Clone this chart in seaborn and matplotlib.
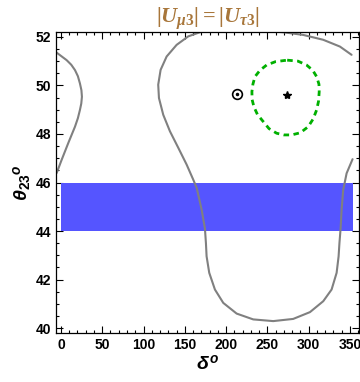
import numpy as np
import pandas as pd
import matplotlib
matplotlib.use('Agg')
import matplotlib.pyplot as plt
import seaborn as sns
from matplotlib.ticker import MultipleLocator

# contour |U_mu3|=|U_tau3| (delta in deg, theta23 in deg)
left_delta = [-6.4, 6.9, 12.5, 17, 20.5, 23, 24.8, 25.4, 24.6, 23, 20.5, 17, 8.8, 0.8, -5.2]
left_theta = [51.38, 51.04, 50.85, 50.63, 50.38, 50.08, 49.8, 49.53, 49.25, 48.99, 48.65, 48.3,
              47.62, 46.93, 46.39]

# big contour, goes out of the top of the frame and comes back
big_delta = [352, 337.9, 317.6, 293.4, 269.2, 245, 212, 178.4, 168.3, 154.2, 140.1, 128, 120.7,
             117.8, 118.7, 123.9, 132, 142.1, 152.2, 160.2, 164.4, 170.4, 174.4, 175.6, 176.4,
             179.6, 186.5, 196.6, 212.8, 232.9, 257.1, 281.3, 301.6, 317.7, 327.8, 333.9, 336.3,
             337.3, 338.7, 339.9, 341.9, 346, 353.2]
big_theta = [51.26, 51.6, 51.88, 52.08, 52.19, 52.25, 52.45, 52.25, 52.19, 52.02, 51.67, 51.19, 50.64,
             50.03, 49.48, 48.79, 48.11, 47.43, 46.74, 46.12, 45.78, 44.88, 44.1, 43.5, 42.96,
             42.28, 41.59, 41.04, 40.6, 40.36, 40.29, 40.38, 40.66, 41.11, 41.59, 42.28, 42.96,
             43.5, 44.1, 44.87, 45.7, 46.38, 46.96]

# green dashed region
green_delta = [274, 287, 297.5, 305, 309.7, 312.5, 312.8, 312, 309.7, 305.5, 299.5, 290, 279.4,
               270, 261.2, 252, 245, 238, 233.7, 231.5, 231.3, 232.5, 235, 241, 249.1, 260, 274]
green_theta = [51.04, 51.0, 50.84, 50.62, 50.36, 50.05, 49.74, 49.35, 48.99, 48.62, 48.3, 48.05, 47.96,
               47.96, 48.03, 48.22, 48.51, 48.8, 49.12, 49.42, 49.74, 50.05, 50.36, 50.62, 50.84, 50.98, 51.04]

# blue band theta23 = 44..46
band_delta = [0, 354]
band_low = 44
band_high = 46

# points
star_pt = (274, 49.6)
dot_pt = (212.7, 49.63)

sns.set_style('ticks')
plt.rcParams['font.family'] = ['Liberation Sans', 'DejaVu Sans']
plt.rcParams['mathtext.fontset'] = 'custom'
plt.rcParams['mathtext.it'] = 'Liberation Serif:bold:italic'
plt.rcParams['mathtext.rm'] = 'Liberation Serif:bold'
plt.rcParams['mathtext.sf'] = 'Liberation Sans:bold:italic'
plt.rcParams['mathtext.bf'] = 'Liberation Sans:bold'

fig = plt.figure(figsize=(3.6, 3.82), dpi=100)
ax = fig.add_axes([56/360, 1-333/382, (359-56)/360, (333-32)/382])

ax.fill_between(band_delta, band_low, band_high, color='#5555ff', linewidth=0, zorder=1)

sns.lineplot(x=left_delta, y=left_theta, sort=False, estimator=None, color='#808080', lw=1.5, ax=ax, zorder=2)
sns.lineplot(x=big_delta, y=big_theta, sort=False, estimator=None, color='#808080', lw=1.5, ax=ax, zorder=2)
sns.lineplot(x=green_delta, y=green_theta, sort=False, estimator=None, color='#00b000', lw=2,
             linestyle=(0, (2, 1.6)), ax=ax, zorder=3)

ax.plot(*star_pt, marker='*', color='black', ms=6, zorder=4)
ax.plot(*dot_pt, marker='o', mfc='white', mec='black', ms=7, mew=1.2, zorder=4)
ax.plot(*dot_pt, marker='o', color='black', ms=1.5, zorder=5)

ax.set_xlim(-6, 361)
ax.set_ylim(39.8, 52.2)
ax.xaxis.set_major_locator(MultipleLocator(50))
ax.xaxis.set_minor_locator(MultipleLocator(10))
ax.yaxis.set_major_locator(MultipleLocator(2))
ax.yaxis.set_minor_locator(MultipleLocator(0.5))
ax.tick_params(which='both', direction='in', top=True, right=True, labelsize=10, width=0.8,
               color='black', labelcolor='black')
ax.tick_params(which='major', length=5)
ax.tick_params(which='minor', length=2.5)
for lab in ax.get_xticklabels() + ax.get_yticklabels():
    lab.set_fontweight('bold')
for s in ax.spines.values():
    s.set_linewidth(0.9)
    s.set_color('black')

ax.set_xlabel(r'$\mathsf{\delta}^{\,\mathsf{o}}$', fontsize=14, labelpad=2, color='black')
ax.set_ylabel(r'${\mathsf{\theta}_{\mathbf{23}}}^{\mathsf{o}}$', fontsize=14, labelpad=2, color='black')
ax.set_title(r'$|U_{\mu 3}|{=}|U_{\tau 3}|$', color='#a8763a', fontsize=16, pad=5)

fig.savefig('out.png', dpi=100)
